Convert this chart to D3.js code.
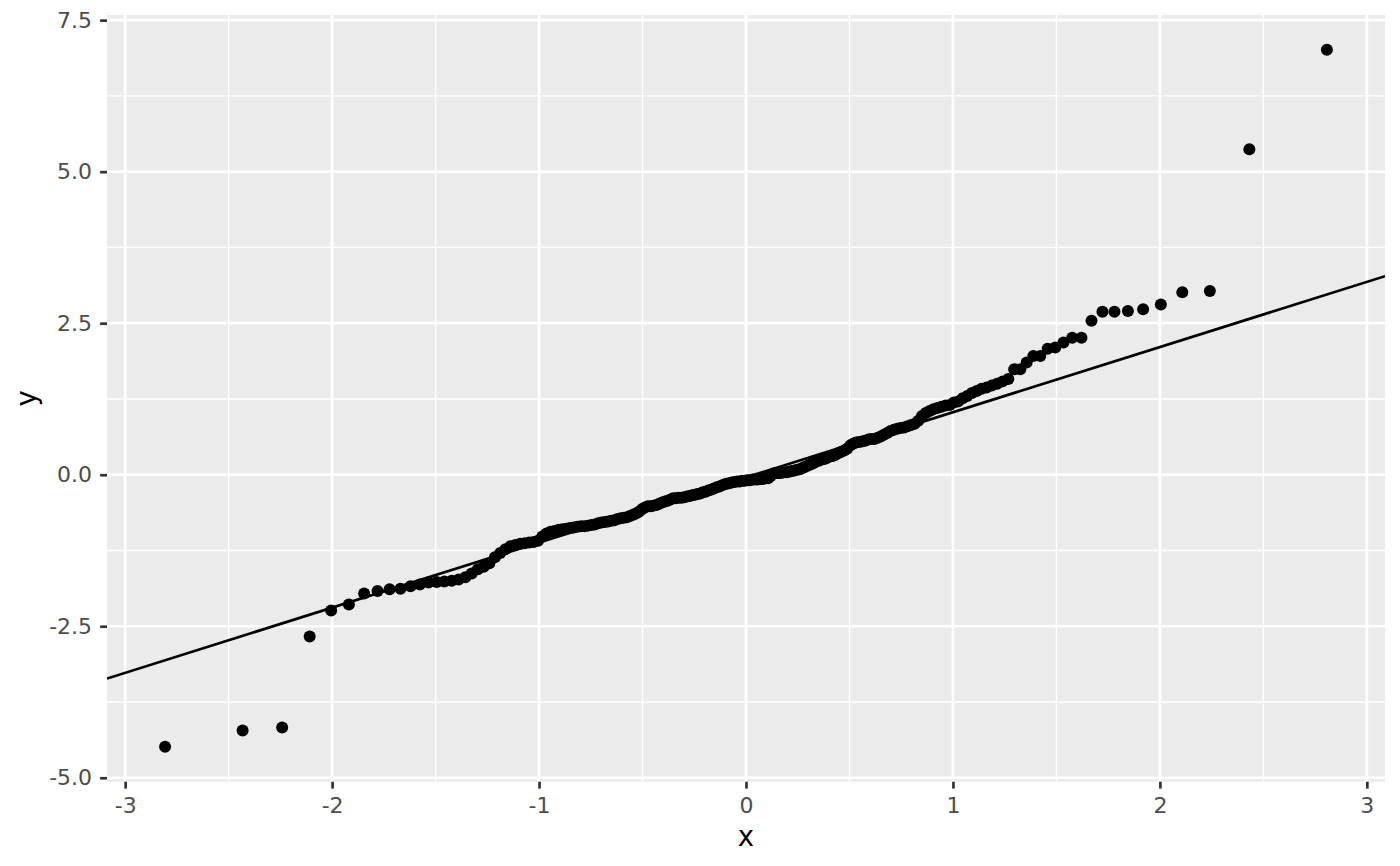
<!DOCTYPE html>
<html><head><meta charset="utf-8">
<script src="https://cdn.jsdelivr.net/npm/d3@7"></script>
<style>body{margin:0;background:#fff}svg{display:block}</style>
</head><body>
<svg id="c" width="1400" height="866"></svg>
<script>
// Sorted sample values (y), n = 200
const sampleY = [
 -4.49,-4.22,-4.17,-2.67,-2.24,-2.14,-1.96,-1.92,-1.89,-1.88,
 -1.84,-1.81,-1.78,-1.77,-1.76,-1.75,-1.73,-1.69,-1.63,-1.56,
 -1.52,-1.46,-1.36,-1.29,-1.23,-1.18,-1.16,-1.14,-1.13,-1.12,
 -1.11,-1.09,-1.02,-0.97,-0.94,-0.93,-0.91,-0.90,-0.89,-0.88,
 -0.87,-0.86,-0.85,-0.85,-0.84,-0.83,-0.82,-0.80,-0.79,-0.78,
 -0.77,-0.76,-0.75,-0.73,-0.72,-0.71,-0.70,-0.68,-0.66,-0.64,
 -0.61,-0.57,-0.54,-0.52,-0.52,-0.51,-0.50,-0.48,-0.46,-0.44,
 -0.43,-0.41,-0.39,-0.39,-0.38,-0.38,-0.37,-0.36,-0.35,-0.34,
 -0.33,-0.32,-0.31,-0.29,-0.28,-0.26,-0.25,-0.23,-0.21,-0.20,
 -0.18,-0.16,-0.15,-0.14,-0.13,-0.12,-0.11,-0.11,-0.10,-0.10,
 -0.09,-0.09,-0.08,-0.08,-0.08,-0.07,-0.07,-0.06,-0.06,-0.02,
  0.02, 0.03, 0.03, 0.03, 0.04, 0.04, 0.05, 0.06, 0.07, 0.08,
  0.09, 0.11, 0.13, 0.15, 0.17, 0.19, 0.22, 0.23, 0.25, 0.26,
  0.28, 0.30, 0.31, 0.33, 0.36, 0.38, 0.40, 0.43, 0.48, 0.51,
  0.53, 0.54, 0.55, 0.56, 0.58, 0.59, 0.59, 0.61, 0.63, 0.66,
  0.69, 0.72, 0.74, 0.76, 0.77, 0.78, 0.80, 0.82, 0.84, 0.89,
  0.97, 1.02, 1.05, 1.08, 1.10, 1.12, 1.14, 1.15, 1.19, 1.21,
  1.26, 1.30, 1.35, 1.38, 1.42, 1.44, 1.47, 1.50, 1.54, 1.58,
  1.74, 1.74, 1.85, 1.96, 1.96, 2.08, 2.10, 2.18, 2.26, 2.26,
  2.54, 2.69, 2.69, 2.70, 2.73, 2.81, 3.01, 3.03, 5.37, 7.01
];
const xTicks = [-3, -2, -1, 0, 1, 2, 3];
const xTickLabels = ["-3", "-2", "-1", "0", "1", "2", "3"];
const xMinor = [-2.5, -1.5, -0.5, 0.5, 1.5, 2.5];
const yTicks = [-5, -2.5, 0, 2.5, 5, 7.5];
const yTickLabels = ["-5.0", "-2.5", "0.0", "2.5", "5.0", "7.5"];
const yMinor = [-3.75, -1.25, 1.25, 3.75, 6.25];
const refLine = [-0.044, 1.075]; // intercept, slope
const axisTitles = ["x", "y"];

// Normal quantile function (Acklam) for theoretical quantiles, as stat_qq does
function qnorm(p) {
  const a=[-3.969683028665376e+01,2.209460984245205e+02,-2.759285104469687e+02,1.383577518672690e+02,-3.066479806614716e+01,2.506628277459239e+00];
  const b=[-5.447609879822406e+01,1.615858368580409e+02,-1.556989798598866e+02,6.680131188771972e+01,-1.328068155288572e+01];
  const c=[-7.784894002430293e-03,-3.223964580411365e-01,-2.400758277161838e+00,-2.549732539343734e+00,4.374664141464968e+00,2.938163982698783e+00];
  const d=[7.784695709041462e-03,3.224671290700398e-01,2.445134137142996e+00,3.754408661907416e+00];
  const pl=0.02425, ph=1-pl; let q,r;
  if (p<pl){q=Math.sqrt(-2*Math.log(p));return (((((c[0]*q+c[1])*q+c[2])*q+c[3])*q+c[4])*q+c[5])/((((d[0]*q+d[1])*q+d[2])*q+d[3])*q+1);}
  if (p>ph){q=Math.sqrt(-2*Math.log(1-p));return -(((((c[0]*q+c[1])*q+c[2])*q+c[3])*q+c[4])*q+c[5])/((((d[0]*q+d[1])*q+d[2])*q+d[3])*q+1);}
  q=p-0.5;r=q*q;return (((((a[0]*r+a[1])*r+a[2])*r+a[3])*r+a[4])*r+a[5])*q/(((((b[0]*r+b[1])*r+b[2])*r+b[3])*r+b[4])*r+1);
}
const n = sampleY.length;
const pts = sampleY.map((y, i) => ({x: qnorm((i + 0.5) / n), y}));

const L = 107, R = 1385, T = 15, B = 781.7;
function expand(ext){const e=(ext[1]-ext[0])*0.05;return [ext[0]-e, ext[1]+e];}
const x = d3.scaleLinear().domain(expand(d3.extent(pts, d => d.x))).range([L, R]);
const y = d3.scaleLinear().domain(expand(d3.extent(pts, d => d.y))).range([B, T]);

const svg = d3.select("#c");
const FONT = "DejaVu Sans, Liberation Sans, sans-serif";
svg.append("rect").attr("x", L).attr("y", T).attr("width", R - L).attr("height", B - T).attr("fill", "#EBEBEB");

const grid = svg.append("g");
grid.selectAll(".xmin").data(xMinor).join("line").attr("x1", d => x(d)).attr("x2", d => x(d)).attr("y1", T).attr("y2", B).attr("stroke", "#fff").attr("stroke-width", 1.35);
grid.selectAll(".ymin").data(yMinor).join("line").attr("y1", d => y(d)).attr("y2", d => y(d)).attr("x1", L).attr("x2", R).attr("stroke", "#fff").attr("stroke-width", 1.35);
grid.selectAll(".xmaj").data(xTicks).join("line").attr("x1", d => x(d)).attr("x2", d => x(d)).attr("y1", T).attr("y2", B).attr("stroke", "#fff").attr("stroke-width", 2.7);
grid.selectAll(".ymaj").data(yTicks).join("line").attr("y1", d => y(d)).attr("y2", d => y(d)).attr("x1", L).attr("x2", R).attr("stroke", "#fff").attr("stroke-width", 2.7);

// reference line clipped to panel
svg.append("clipPath").attr("id", "pc").append("rect").attr("x", L).attr("y", T).attr("width", R - L).attr("height", B - T);
const xd = x.domain();
svg.append("line").attr("clip-path", "url(#pc)")
  .attr("x1", x(xd[0])).attr("y1", y(refLine[0] + refLine[1] * xd[0]))
  .attr("x2", x(xd[1])).attr("y2", y(refLine[0] + refLine[1] * xd[1]))
  .attr("stroke", "#000").attr("stroke-width", 2.7);

svg.append("g").selectAll("circle").data(pts).join("circle")
  .attr("cx", d => x(d.x)).attr("cy", d => y(d.y)).attr("r", 6).attr("fill", "#000");

const xAxis = d3.axisBottom(x).tickValues(xTicks).tickFormat((d, i) => xTickLabels[i]).tickSize(6.9).tickPadding(8.5);
const gx = svg.append("g").attr("transform", `translate(0,${B})`).call(xAxis);
const yAxis = d3.axisLeft(y).tickValues(yTicks).tickFormat((d, i) => yTickLabels[i]).tickSize(6.9).tickPadding(8);
const gy = svg.append("g").attr("transform", `translate(${L},0)`).call(yAxis);
[gx, gy].forEach(g => {
  g.select(".domain").remove();
  g.selectAll(".tick line").attr("stroke", "#333333").attr("stroke-width", 2.7);
  g.selectAll(".tick text").attr("fill", "#4D4D4D").style("font-family", FONT).style("font-size", "22px");
});

svg.append("text").attr("x", (L + R) / 2).attr("y", 845.5).attr("text-anchor", "middle")
  .style("font-family", FONT).style("font-size", "27.5px").attr("fill", "#000").text(axisTitles[0]);
svg.append("text").attr("transform", `translate(36,${(T + B) / 2}) rotate(-90)`).attr("text-anchor", "middle")
  .style("font-family", FONT).style("font-size", "27.5px").attr("fill", "#000").text(axisTitles[1]);
</script>
</body></html>
